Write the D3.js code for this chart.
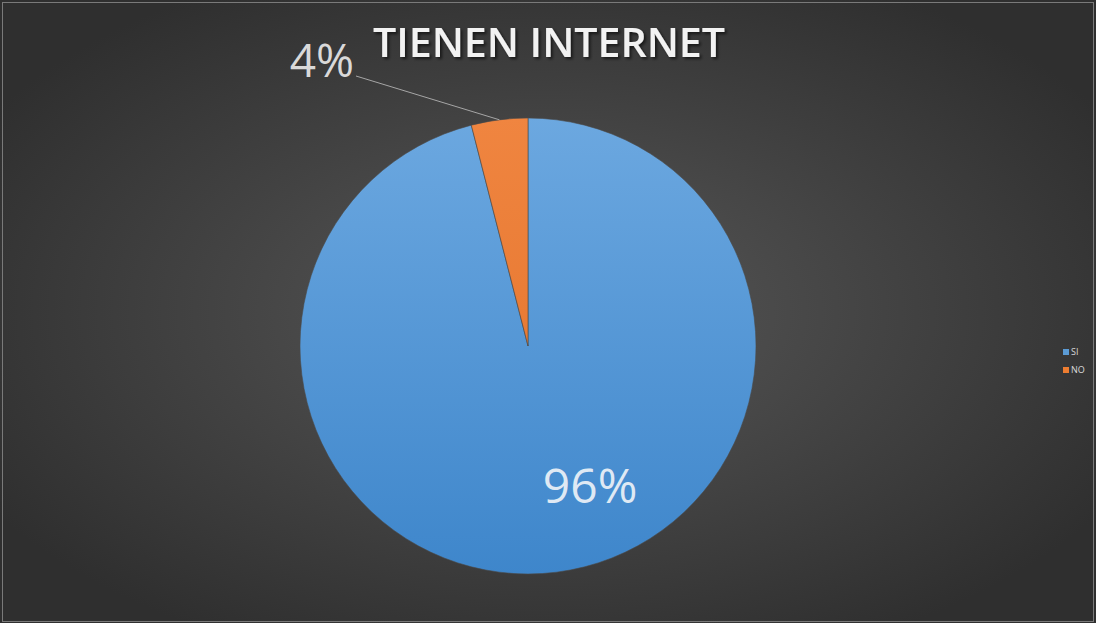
<!DOCTYPE html>
<html>
<head>
<meta charset="utf-8">
<script src="https://cdn.jsdelivr.net/npm/d3@7"></script>
<style>
  body { margin: 0; background: #fff; }
  svg { display: block; }
</style>
</head>
<body>
<script>
const width = 1096;
const height = 623;

const categories = ["SI", "NO"];
const values = [96, 4];
const labels = ["96%", "4%"];
const colors = ["#5b9bd5", "#ed7d31"];
const sliceTop = ["#6ca8e0", "#f08540"];
const sliceBottom = ["#3e86cb", "#e07028"];
const chartTitle = "TIENEN INTERNET";

const svg = d3.select("body")
  .append("svg")
  .attr("width", width)
  .attr("height", height);

const defs = svg.append("defs");

const bg = defs.append("radialGradient")
  .attr("id", "bg")
  .attr("cx", "50%").attr("cy", "50%").attr("r", "60%");
bg.append("stop").attr("offset", "0%").attr("stop-color", "#585858");
bg.append("stop").attr("offset", "100%").attr("stop-color", "#2f2f2f");

const shadow = defs.append("filter").attr("id", "shadow")
  .attr("x", "-10%").attr("y", "-30%").attr("width", "120%").attr("height", "160%");
shadow.append("feDropShadow")
  .attr("dx", 2).attr("dy", 2).attr("stdDeviation", 1.5)
  .attr("flood-color", "#000").attr("flood-opacity", 0.6);

// slice gradients, lighter on top
colors.forEach((c, i) => {
  const g = defs.append("linearGradient")
    .attr("id", "slice" + i)
    .attr("gradientUnits", "userSpaceOnUse")
    .attr("x1", 0).attr("y1", -230).attr("x2", 0).attr("y2", 230);
  g.append("stop").attr("offset", "0%").attr("stop-color", sliceTop[i]);
  g.append("stop").attr("offset", "100%").attr("stop-color", sliceBottom[i]);
});

svg.append("rect")
  .attr("width", width)
  .attr("height", height)
  .attr("fill", "url(#bg)");

// thin light frame
svg.append("rect")
  .attr("x", 2.5).attr("y", 2.5)
  .attr("width", width - 5).attr("height", height - 4)
  .attr("fill", "none")
  .attr("stroke", "#7a7a7a")
  .attr("stroke-width", 1);

svg.append("text")
  .attr("x", 549)
  .attr("y", 57)
  .attr("text-anchor", "middle")
  .attr("font-family", "'Open Sans', sans-serif")
  .attr("font-weight", 600)
  .attr("font-size", 40)
  .attr("textLength", 352)
  .attr("lengthAdjust", "spacingAndGlyphs")
  .attr("fill", "#f2f2f2")
  .attr("filter", "url(#shadow)")
  .text(chartTitle);

const cx = 528, cy = 346, radius = 228;

const pie = d3.pie().sort(null).value(d => d);
const arc = d3.arc().innerRadius(0).outerRadius(radius);
const arcs = pie(values);

const g = svg.append("g").attr("transform", `translate(${cx},${cy})`);

g.selectAll("path")
  .data(arcs)
  .enter()
  .append("path")
  .attr("d", arc)
  .attr("fill", (d, i) => `url(#slice${i})`)
  .attr("stroke", "#4a4a4a")
  .attr("stroke-width", 0.6);

// 96% label inside (Excel best-fit spot)
const labelAngle = 156 * Math.PI / 180;
const labelR = radius * 0.67;
g.append("text")
  .attr("x", labelR * Math.sin(labelAngle))
  .attr("y", -labelR * Math.cos(labelAngle) + 17)
  .attr("text-anchor", "middle")
  .attr("font-family", "'Open Sans', sans-serif")
  .attr("font-size", 48)
  .attr("fill", "#dfe9f4")
  .text(labels[0]);

// 4% label outside with leader
const edge = d3.arc().innerRadius(radius).outerRadius(radius);
const e1 = edge.centroid(arcs[1]);
const lx = 356 - cx, ly = 76 - cy;
g.append("line")
  .attr("x1", lx).attr("y1", ly)
  .attr("x2", e1[0]).attr("y2", e1[1])
  .attr("stroke", "#a6a6a6")
  .attr("stroke-width", 1);
g.append("text")
  .attr("x", lx - 2)
  .attr("y", ly + 1)
  .attr("text-anchor", "end")
  .attr("font-family", "'Open Sans', sans-serif")
  .attr("font-size", 46)
  .attr("fill", "#d9d9d9")
  .text(labels[1]);

// legend
const legend = svg.append("g").attr("transform", "translate(1063,349)");
const item = legend.selectAll("g")
  .data(categories)
  .enter()
  .append("g")
  .attr("transform", (d, i) => `translate(0,${i * 18})`);
item.append("rect")
  .attr("width", 6).attr("height", 6)
  .attr("fill", (d, i) => colors[i]);
item.append("text")
  .attr("x", 8).attr("y", 6)
  .attr("font-family", "'Open Sans', sans-serif")
  .attr("font-size", 9)
  .attr("fill", "#d9d9d9")
  .text(d => d);
</script>
</body>
</html>
